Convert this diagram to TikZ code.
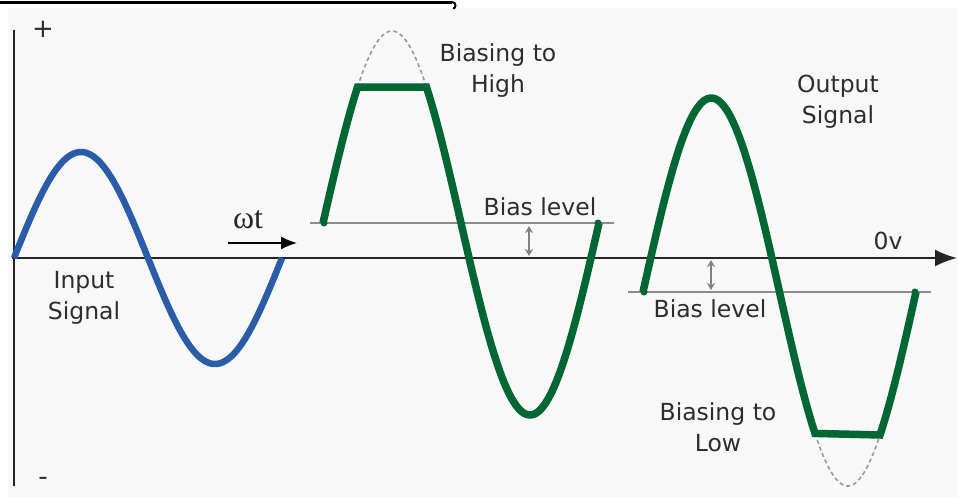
\documentclass[tikz,border=0pt]{standalone}
\usepackage{fontspec}
\setmainfont{DejaVu Sans}
\newfontfamily\serifx{Liberation Serif}
\usetikzlibrary{arrows.meta}
\definecolor{sigblue}{RGB}{42,92,168}
\definecolor{siggreen}{RGB}{0,102,51}
\definecolor{bggray}{RGB}{248,248,248}
\definecolor{txtgray}{RGB}{45,45,45}
\begin{document}
\begin{tikzpicture}[x=1pt,y=-1pt,
  lbl/.style={font=\fontsize{23.5}{31}\selectfont, text=txtgray, align=center, inner sep=0pt},
  axisline/.style={line width=2pt, black!85},
  biasline/.style={line width=1.4pt, gray!90},
  biasarrow/.style={line width=1.4pt, gray, {Stealth[length=7pt,width=8pt]}-{Stealth[length=7pt,width=8pt]}},
  bluesig/.style={line width=6.5pt, sigblue},
  greensig/.style={line width=7.5pt, siggreen, line join=miter},
  ghost/.style={line width=1.6pt, gray!80, dash pattern=on 4pt off 3pt},
  enddot/.style={fill=siggreen, circle, inner sep=0pt, minimum size=7pt}
]
\useasboundingbox (0,0) rectangle (958,500);
\fill[white] (0,0) rectangle (958,500);
\fill[bggray] (8,8) rectangle (958,497);
% top rule
\draw[line width=3pt, black] (0,3) -- (452,3);
\draw[line width=2pt, black] (452,2) arc[start angle=90, end angle=-70, radius=3.5pt];

% axes
\coordinate (origin) at (12,258);
\coordinate (xend) at (957,258);
\coordinate (ytop) at (14,30);
\coordinate (ybot) at (14,486);
\draw[axisline, -{Latex[length=22pt,width=17pt]}] (origin) -- (xend);
\draw[axisline] (ytop) -- (ybot);
\node[lbl, font=\fontsize{26}{26}\selectfont] (plus) at (43,29) {+};
\node[lbl, font=\fontsize{26}{26}\selectfont] (minus) at (43,481) {-};

% input signal
\draw[bluesig] plot[domain=14:282, samples=120] (\x,{258-106*sin((\x-14)/268*360)});
\node[lbl] (input) at (84,298) {Input\\Signal};

% omega t
\node[inner sep=0pt, font=\serifx\fontsize{32}{32}\selectfont, text=black!85] (wt) at (248,220) {ωt};
\coordinate (wta) at (228,243);
\coordinate (wtb) at (297,243);
\draw[line width=1.8pt, -{Latex[length=16pt,width=13pt]}] (wta) -- (wtb);

% biased high signal
\coordinate (b1a) at (310,223);
\coordinate (b1b) at (614,223);
\draw[biasline] (b1a) -- (b1b);
\draw[ghost] plot[domain=357.5:426.5, samples=50] (\x,{223-192*sin((\x-323)/276*360)});
\draw[greensig] plot[domain=323:357.5, samples=20] (\x,{223-192*sin((\x-323)/276*360)})
  -- (426.5,{223-192*sin(45)})
  -- plot[domain=426.5:599, samples=100] (\x,{223-192*sin((\x-323)/276*360)});
\node[enddot] at (324,223) {};
\node[enddot] at (598,223) {};
\coordinate (ar1a) at (529,226);
\coordinate (ar1b) at (529,256);
\draw[biasarrow] (ar1a) -- (ar1b);
\node[lbl] (bl1) at (540,207) {Bias level};
\node[lbl] (bhigh) at (498,71) {Biasing to\\High};

% biased low signal
\coordinate (b2a) at (628,292);
\coordinate (b2b) at (931,292);
\draw[biasline] (b2a) -- (b2b);
\draw[ghost] plot[domain=815:880, samples=50] (\x,{292-194*sin((\x-643)/273*360)});
\draw[greensig] plot[domain=643:815, samples=100] (\x,{292-194*sin((\x-643)/273*360)})
  -- (880,{292-194*sin((880-643)/273*360)})
  -- plot[domain=880:916, samples=20] (\x,{292-194*sin((\x-643)/273*360)});
\node[enddot] at (644,292) {};
\node[enddot] at (915,292) {};
\coordinate (ar2a) at (711,260);
\coordinate (ar2b) at (711,290);
\draw[biasarrow] (ar2a) -- (ar2b);
\node[lbl] (bl2) at (710,309) {Bias level};
\node[lbl] (blow) at (718,427) {Biasing to\\Low};
\node[lbl] (output) at (838,102) {Output\\Signal};
\node[lbl] (zero) at (888,241) {0v};
\end{tikzpicture}
\end{document}
